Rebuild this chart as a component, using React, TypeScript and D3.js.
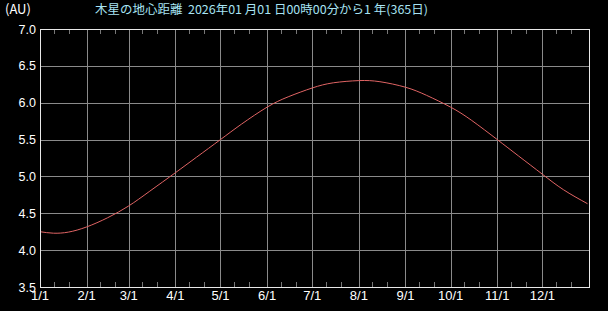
import React, { useEffect } from "react";
import * as d3 from "d3";

const dates = [
  "2026-01-01", "2026-01-10", "2026-01-20", "2026-02-01", "2026-02-15", "2026-03-01",
  "2026-03-15", "2026-04-01", "2026-04-15", "2026-05-01", "2026-05-15", "2026-06-01",
  "2026-06-15", "2026-07-01", "2026-07-15", "2026-08-01", "2026-08-15", "2026-09-01",
  "2026-09-15", "2026-10-01", "2026-10-15", "2026-11-01", "2026-11-15", "2026-12-01",
  "2026-12-15", "2026-12-31",
];
const distances = [
  4.25, 4.23, 4.245, 4.315, 4.44, 4.6,
  4.8, 5.05, 5.26, 5.5, 5.71, 5.94,
  6.08, 6.2, 6.27, 6.3, 6.285, 6.21,
  6.1, 5.94, 5.76, 5.5, 5.28, 5.03,
  4.82, 4.63,
];
const yTicks = [3.5, 4.0, 4.5, 5.0, 5.5, 6.0, 6.5, 7.0];
const monthLabels = ["1/1", "2/1", "3/1", "4/1", "5/1", "6/1", "7/1", "8/1", "9/1", "10/1", "11/1", "12/1"];
const title = "木星の地心距離  2026年01 月01 日00時00分から1 年(365日)";
const unitLabel = "(AU)";

const W = 608;
const H = 311;
const M = { left: 40, right: 19, top: 29, bottom: 24 };

export default function App() {
  useEffect(() => {
    document.body.style.margin = "0";
    document.body.style.background = "#000";
  }, []);

  const parse = d3.utcParse("%Y-%m-%d");
  const start = parse("2026-01-01")!;
  const end = parse("2027-01-01")!;
  const x = d3.scaleUtc().domain([start, end]).range([M.left, W - M.right]);
  const y = d3.scaleLinear().domain([3.5, 7.0]).range([H - M.bottom, M.top]);

  const pts = dates.map((d, i) => ({ t: parse(d)!, v: distances[i] }));
  const line = d3
    .line<{ t: Date; v: number }>()
    .x((d) => x(d.t))
    .y((d) => y(d.v))
    .curve(d3.curveNatural);

  const months = d3.utcMonth.range(start, end);
  const minor: Date[] = [];
  months.forEach((m) => {
    minor.push(d3.utcDay.offset(m, 9));
    minor.push(d3.utcDay.offset(m, 19));
  });

  const x0 = M.left;
  const x1 = W - M.right;
  const y0 = M.top;
  const y1 = H - M.bottom;
  const grid = "#8a8a8a";
  const font = "'Liberation Sans', Arial, sans-serif";

  return (
    <svg width={W} height={H} style={{ display: "block", background: "#000" }}>
      <rect x={0} y={0} width={W} height={H} fill="#000" />
      {yTicks.slice(1, -1).map((t) => (
        <line key={"h" + t} x1={x0} x2={x1} y1={Math.round(y(t)) + 0.5} y2={Math.round(y(t)) + 0.5} stroke={grid} strokeWidth={1} />
      ))}
      {months.slice(1).map((m, i) => (
        <line key={"v" + i} x1={Math.round(x(m)) + 0.5} x2={Math.round(x(m)) + 0.5} y1={y0} y2={y1} stroke={grid} strokeWidth={1} />
      ))}
      {minor.map((m, i) => (
        <g key={"m" + i}>
          <line x1={Math.round(x(m)) + 0.5} x2={Math.round(x(m)) + 0.5} y1={y0} y2={y0 + 5} stroke="#777" />
          <line x1={Math.round(x(m)) + 0.5} x2={Math.round(x(m)) + 0.5} y1={y1 - 5} y2={y1} stroke="#777" />
        </g>
      ))}
      <path d={line(pts) || ""} fill="none" stroke="#e06464" strokeWidth={1} />
      <rect x={x0 + 0.5} y={y0 + 0.5} width={x1 - x0} height={y1 - y0} fill="none" stroke="#e8e8e8" strokeWidth={1} />
      {yTicks.map((t) => (
        <text key={"yl" + t} x={36} y={y(t) + 4.5} fill="#fff" fontSize={12.5} fontFamily={font} textAnchor="end">
          {t.toFixed(1)}
        </text>
      ))}
      {months.map((m, i) => (
        <text key={"xl" + i} x={x(m)} y={300} fill="#fff" fontSize={13} fontFamily={font} textAnchor="middle">
          {monthLabels[i]}
        </text>
      ))}
      <text x={5} y={14} fill="#fff" fontSize={13} fontFamily="'Noto Sans CJK JP', sans-serif">
        {unitLabel}
      </text>
      <text x={95} y={14} fill="#a8e4f4" fontSize={12} fontFamily="'Noto Sans CJK JP', sans-serif" textLength={333} lengthAdjust="spacingAndGlyphs" style={{ whiteSpace: "pre" }}>
        {title}
      </text>
    </svg>
  );
}
